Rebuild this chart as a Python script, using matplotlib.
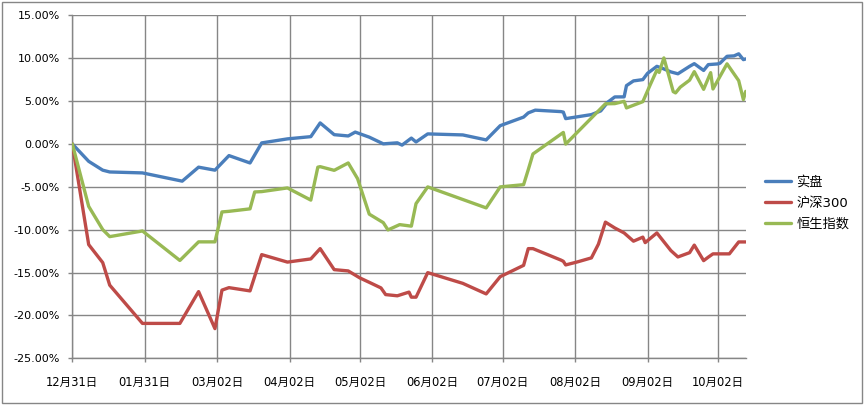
import matplotlib.pyplot as plt
import matplotlib.dates as mdates
import pandas as pd
from matplotlib.patches import Rectangle
from matplotlib.ticker import FuncFormatter

plt.rcParams['font.family'] = ['DejaVu Sans', 'Noto Sans CJK SC']

# 实盘
real_dates = ['2011-12-31', '2012-01-07', '2012-01-13', '2012-01-16', '2012-01-30', '2012-02-16',
              '2012-02-23', '2012-03-01', '2012-03-07', '2012-03-16', '2012-03-21', '2012-04-01',
              '2012-04-11', '2012-04-15', '2012-04-21', '2012-04-27', '2012-04-30', '2012-05-06',
              '2012-05-12', '2012-05-18', '2012-05-20', '2012-05-24', '2012-05-26', '2012-05-31',
              '2012-06-15', '2012-06-25', '2012-07-01', '2012-07-11', '2012-07-13', '2012-07-16',
              '2012-07-27', '2012-07-28', '2012-07-29', '2012-08-09', '2012-08-13', '2012-08-16',
              '2012-08-19', '2012-08-23', '2012-08-24', '2012-08-27', '2012-08-31', '2012-09-02',
              '2012-09-06', '2012-09-08', '2012-09-12', '2012-09-15', '2012-09-20', '2012-09-22',
              '2012-09-26', '2012-09-28', '2012-10-02', '2012-10-03', '2012-10-06', '2012-10-09',
              '2012-10-11', '2012-10-13', '2012-10-14']
real_vals = [0.00, -2.03, -3.06, -3.27, -3.38, -4.34,
             -2.71, -3.06, -1.36, -2.22, 0.12, 0.59,
             0.85, 2.45, 1.08, 0.93, 1.38, 0.79,
             0.01, 0.13, -0.14, 0.68, 0.23, 1.17,
             1.05, 0.47, 2.13, 3.13, 3.62, 3.94,
             3.77, 3.71, 2.95, 3.42, 3.85, 4.87,
             5.48, 5.49, 6.80, 7.35, 7.50, 8.23,
             9.05, 8.86, 8.40, 8.18, 9.05, 9.36,
             8.57, 9.25, 9.33, 9.41, 10.22, 10.27,
             10.51, 9.83, 9.91]

# 沪深300
hs300_dates = ['2011-12-31', '2012-01-07', '2012-01-13', '2012-01-16', '2012-01-30', '2012-02-15',
               '2012-02-23', '2012-03-01', '2012-03-04', '2012-03-07', '2012-03-16', '2012-03-21',
               '2012-04-01', '2012-04-11', '2012-04-15', '2012-04-21', '2012-04-27', '2012-05-02',
               '2012-05-06', '2012-05-11', '2012-05-13', '2012-05-18', '2012-05-23', '2012-05-24',
               '2012-05-26', '2012-05-31', '2012-06-15', '2012-06-25', '2012-07-01', '2012-07-11',
               '2012-07-13', '2012-07-15', '2012-07-27', '2012-07-28', '2012-07-29', '2012-08-03',
               '2012-08-09', '2012-08-12', '2012-08-15', '2012-08-19', '2012-08-23', '2012-08-27',
               '2012-08-31', '2012-09-01', '2012-09-06', '2012-09-12', '2012-09-15', '2012-09-20',
               '2012-09-22', '2012-09-26', '2012-09-28', '2012-09-30', '2012-10-07', '2012-10-11',
               '2012-10-14']
hs300_vals = [0.00, -11.74, -13.84, -16.47, -20.93, -20.93,
              -17.22, -21.54, -17.05, -16.76, -17.14, -12.91,
              -13.78, -13.41, -12.21, -14.66, -14.81, -15.63,
              -16.14, -16.79, -17.57, -17.71, -17.28, -17.87,
              -17.87, -15.01, -16.26, -17.49, -15.48, -14.16,
              -12.21, -12.21, -13.55, -13.69, -14.11, -13.76,
              -13.29, -11.69, -9.12, -9.80, -10.38, -11.34,
              -10.87, -11.51, -10.38, -12.44, -13.18, -12.68,
              -11.80, -13.61, -13.20, -12.82, -12.82, -11.43,
              -11.43]

# 恒生指数
hsi_dates = ['2011-12-31', '2012-01-07', '2012-01-13', '2012-01-16', '2012-01-30', '2012-02-15',
             '2012-02-23', '2012-03-01', '2012-03-04', '2012-03-07', '2012-03-16', '2012-03-18',
             '2012-03-21', '2012-04-01', '2012-04-11', '2012-04-14', '2012-04-15', '2012-04-21',
             '2012-04-27', '2012-05-01', '2012-05-06', '2012-05-12', '2012-05-14', '2012-05-19',
             '2012-05-24', '2012-05-26', '2012-05-31', '2012-06-25', '2012-07-01', '2012-07-11',
             '2012-07-13', '2012-07-15', '2012-07-28', '2012-07-29', '2012-08-15', '2012-08-19',
             '2012-08-23', '2012-08-24', '2012-08-31', '2012-09-03', '2012-09-06', '2012-09-07',
             '2012-09-09', '2012-09-13', '2012-09-14', '2012-09-16', '2012-09-20', '2012-09-22',
             '2012-09-26', '2012-09-29', '2012-09-30', '2012-10-06', '2012-10-11', '2012-10-13',
             '2012-10-14']
hsi_vals = [0.00, -7.28, -9.99, -10.81, -10.15, -13.59,
            -11.42, -11.42, -7.93, -7.86, -7.57, -5.60,
            -5.56, -5.13, -6.55, -2.71, -2.65, -3.08,
            -2.22, -4.05, -8.19, -9.18, -10.03, -9.41,
            -9.59, -6.96, -5.01, -7.46, -5.01, -4.75,
            -3.00, -1.17, 1.34, -0.02, 4.68, 4.70,
            4.97, 4.20, 4.93, 6.80, 8.61, 8.34,
            10.03, 6.10, 5.95, 6.62, 7.44, 8.43,
            6.37, 8.31, 6.41, 9.34, 7.38, 5.17,
            6.13]

series_names = ['实盘', '沪深300', '恒生指数']
series_colors = ['#4A7EBB', '#BE4B48', '#98B954']

tick_dates = ['2011-12-31', '2012-01-31', '2012-03-02', '2012-04-02', '2012-05-02',
              '2012-06-02', '2012-07-02', '2012-08-02', '2012-09-02', '2012-10-02']
tick_labels = ['12月31日', '01月31日', '03月02日', '04月02日', '05月02日',
               '06月02日', '07月02日', '08月02日', '09月02日', '10月02日']

grid_color = '#868686'

fig = plt.figure(figsize=(8.64, 4.05), dpi=100)
ax = fig.add_axes([0.0837, 0.1153, 0.7794, 0.8469])

all_dates = [real_dates, hs300_dates, hsi_dates]
all_vals = [real_vals, hs300_vals, hsi_vals]
for d, v, name, c in zip(all_dates, all_vals, series_names, series_colors):
    ax.plot(pd.to_datetime(d), v, color=c, lw=2.4, label=name,
            solid_joinstyle='round', solid_capstyle='round', zorder=3)

ax.set_ylim(-25, 15)
ax.set_yticks(range(-25, 16, 5))
ax.yaxis.set_major_formatter(FuncFormatter(lambda v, p: f'{v:.2f}%'))

ax.set_xlim(pd.Timestamp('2011-12-31'), pd.Timestamp('2012-10-14'))
ax.set_xticks(pd.to_datetime(tick_dates))
ax.set_xticklabels(tick_labels)

ax.grid(True, color=grid_color, lw=1, zorder=0)
for side in ['top', 'right']:
    ax.spines[side].set_visible(False)
for side in ['left', 'bottom']:
    ax.spines[side].set_color(grid_color)
    ax.spines[side].set_linewidth(1)
ax.tick_params(axis='y', length=3, width=1, color=grid_color, pad=6, labelsize=8)
ax.tick_params(axis='x', length=3, width=1, color=grid_color, pad=10, labelsize=8.3)
ax.set_axisbelow(True)

fig.legend(loc='center left', bbox_to_anchor=(0.885, 0.498), frameon=False,
           fontsize=9.5, handlelength=2.0, handletextpad=0.4, labelspacing=0.6,
           borderpad=0, borderaxespad=0)

fig.patches.append(Rectangle((0.002, 0.004), 0.996, 0.992, transform=fig.transFigure,
                             fill=False, edgecolor=grid_color, lw=1))

fig.savefig('out.png', dpi=100)
